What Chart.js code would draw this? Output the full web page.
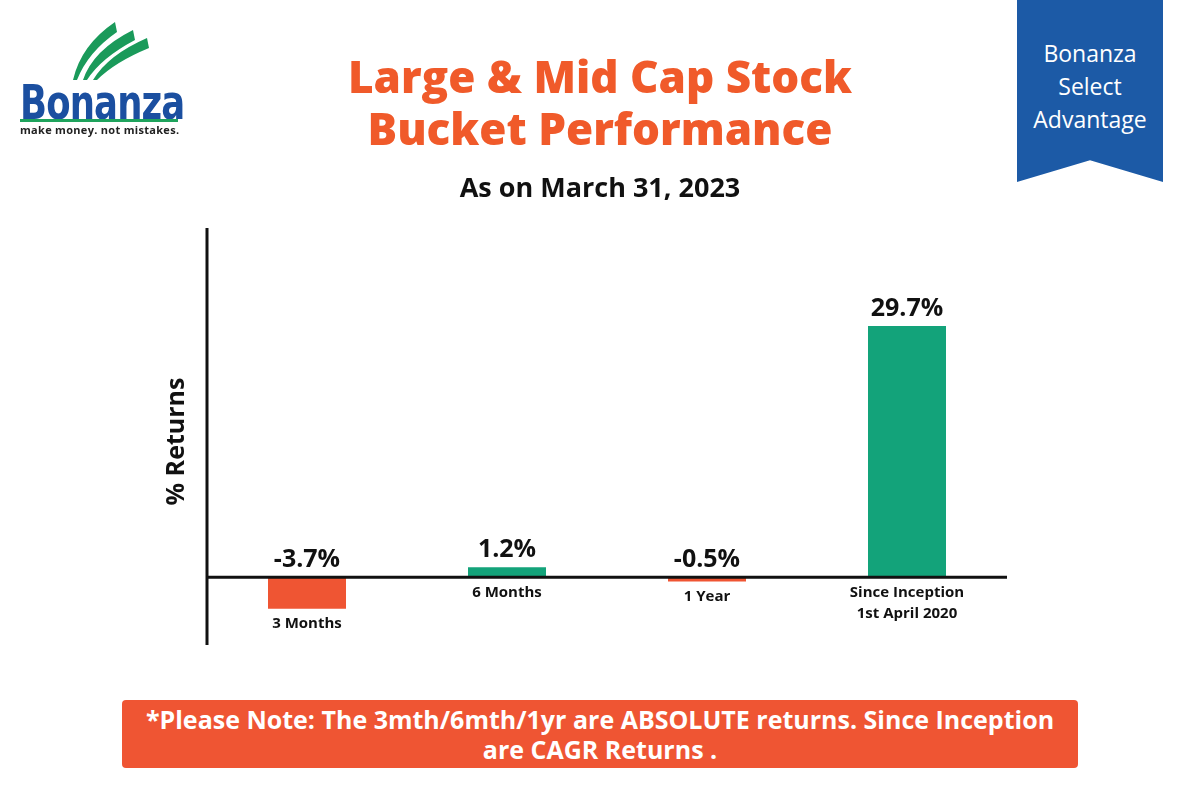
<!DOCTYPE html>
<html>
<head>
<meta charset="utf-8">
<script src="https://cdn.jsdelivr.net/npm/chart.js@4"></script>
<style>
  html, body { margin: 0; padding: 0; background: #fff; font-family: 'Open Sans', sans-serif; }
  #page { position: relative; width: 1200px; height: 800px; overflow: hidden; }
  #wrap { position: absolute; left: 0; top: 0; width: 1200px; height: 800px; }
  .title { position: absolute; left: 250px; width: 700px; top: 50px; text-align: center;
           color: #f05a2a; font-weight: 800; font-size: 44px; line-height: 52px; }
  .sub { position: absolute; left: 300px; width: 600px; top: 168px; text-align: center;
         color: #111; font-weight: 700; font-size: 27px; }
  .badge { position: absolute; left: 1017px; top: 0; width: 146px; height: 182px; background: #1c5aa6;
           clip-path: polygon(0 0, 100% 0, 100% 100%, 50% 88%, 0 100%); color: #fff;
           font-size: 23px; line-height: 33px; text-align: center; padding-top: 37px; box-sizing: border-box; }
  .note { position: absolute; left: 122px; top: 700px; width: 956px; height: 68px; background: #ef5533;
          border-radius: 4px; color: #fff; font-weight: 700; font-size: 25px; line-height: 30px; text-align: center;
          padding-top: 4px; box-sizing: border-box; white-space: nowrap; }
  .logo { position: absolute; left: 18px; top: 20px; width: 170px; height: 120px; }
  .logo .word { position: absolute; left: 2px; top: 54px; color: #1b4fa0; font-family: 'Liberation Sans Narrow', 'DejaVu Sans Condensed', sans-serif;
                font-weight: 700; font-size: 48px; letter-spacing: -1px; transform: scaleX(0.82); transform-origin: left; }
  .logo .bar { position: absolute; left: 2px; top: 99px; width: 158px; height: 3px; background: #1ea35c; }
  .logo .tag { position: absolute; left: 2px; top: 102px; font-size: 11px; font-weight: 700; color: #222; letter-spacing: 0.3px; }
</style>
</head>
<body>
<div id="page">
  <div id="wrap"><canvas id="grafico"></canvas></div>
  <div class="logo">
    <svg width="120" height="60" style="position:absolute;left:35px;top:0">
      <path d="M20 60 Q28 25 62 2 L64 12 Q35 32 24 60 Z" fill="#1a9a5a"/>
      <path d="M30 60 Q40 30 80 10 L82 20 Q48 38 34 60 Z" fill="#1a9a5a"/>
      <path d="M40 60 Q55 35 94 18 L96 28 Q62 42 44 60 Z" fill="#1a9a5a"/>
    </svg>
    <div class="word">Bonanza</div>
    <div class="bar"></div>
    <div class="tag">make money. not mistakes.</div>
  </div>
  <div class="title">Large &amp; Mid Cap Stock<br>Bucket Performance</div>
  <div class="sub">As on March 31, 2023</div>
  <div class="badge">Bonanza<br>Select<br>Advantage</div>
  <div class="note">*Please Note: The 3mth/6mth/1yr are ABSOLUTE returns. Since Inception<br>are CAGR Returns .</div>
</div>
<script>
'use strict';

const periodi = [['3 Months'], ['6 Months'], ['1 Year'], ['Since Inception', '1st April 2020']];
const rendimenti = [-3.7, 1.2, -0.5, 29.7];
const valoreLabels = ['-3.7%', '1.2%', '-0.5%', '29.7%'];
const yTitolo = '% Returns';

const ROSSO = '#ef5533';
const VERDE = '#13a37a';

// Assi, etichette e linee disegnati a mano
const etichettePlugin = {
  id: 'etichette',
  afterDatasetsDraw(chart) {
    const ctx = chart.ctx;
    const area = chart.chartArea;
    const y = chart.scales.y;
    const zero = y.getPixelForValue(0);
    ctx.save();
    ctx.strokeStyle = '#111';
    ctx.lineWidth = 3;
    ctx.beginPath();
    ctx.moveTo(area.left, area.top); ctx.lineTo(area.left, area.bottom);
    ctx.moveTo(area.left, zero); ctx.lineTo(area.right, zero);
    ctx.stroke();

    const meta = chart.getDatasetMeta(0);
    ctx.textAlign = 'center';
    meta.data.forEach((bar, i) => {
      const v = rendimenti[i];
      ctx.fillStyle = '#111';
      ctx.font = "700 25px 'Open Sans'";
      ctx.textBaseline = 'bottom';
      const topY = v >= 0 ? bar.y : zero;
      ctx.fillText(valoreLabels[i], bar.x, topY - 5);
      ctx.font = "700 15px 'Open Sans'";
      ctx.textBaseline = 'top';
      let ly = (v >= 0 ? zero : bar.y) + 8;
      periodi[i].forEach(line => { ctx.fillText(line, bar.x, ly); ly += 21; });
    });

    ctx.translate(177, (area.top + area.bottom) / 2 + 5);
    ctx.rotate(-Math.PI / 2);
    ctx.font = "700 25px 'Open Sans'";
    ctx.textBaseline = 'middle';
    ctx.fillText(yTitolo, 0, 0);
    ctx.restore();
  }
};

new Chart(document.getElementById('grafico').getContext('2d'), {
  type: 'bar',
  data: {
    labels: periodi,
    datasets: [{
      data: rendimenti,
      backgroundColor: rendimenti.map(v => v >= 0 ? VERDE : ROSSO),
      borderWidth: 0,
      barPercentage: 0.39,
      categoryPercentage: 1
    }]
  },
  options: {
    responsive: true,
    maintainAspectRatio: false,
    animation: false,
    layout: { padding: { left: 207, top: 228, right: 193, bottom: 155 } },
    plugins: { legend: { display: false }, tooltip: { enabled: false } },
    scales: {
      x: { display: false },
      y: { display: false, min: -8, max: 41.3 }
    }
  },
  plugins: [etichettePlugin]
});
</script>
</body>
</html>
